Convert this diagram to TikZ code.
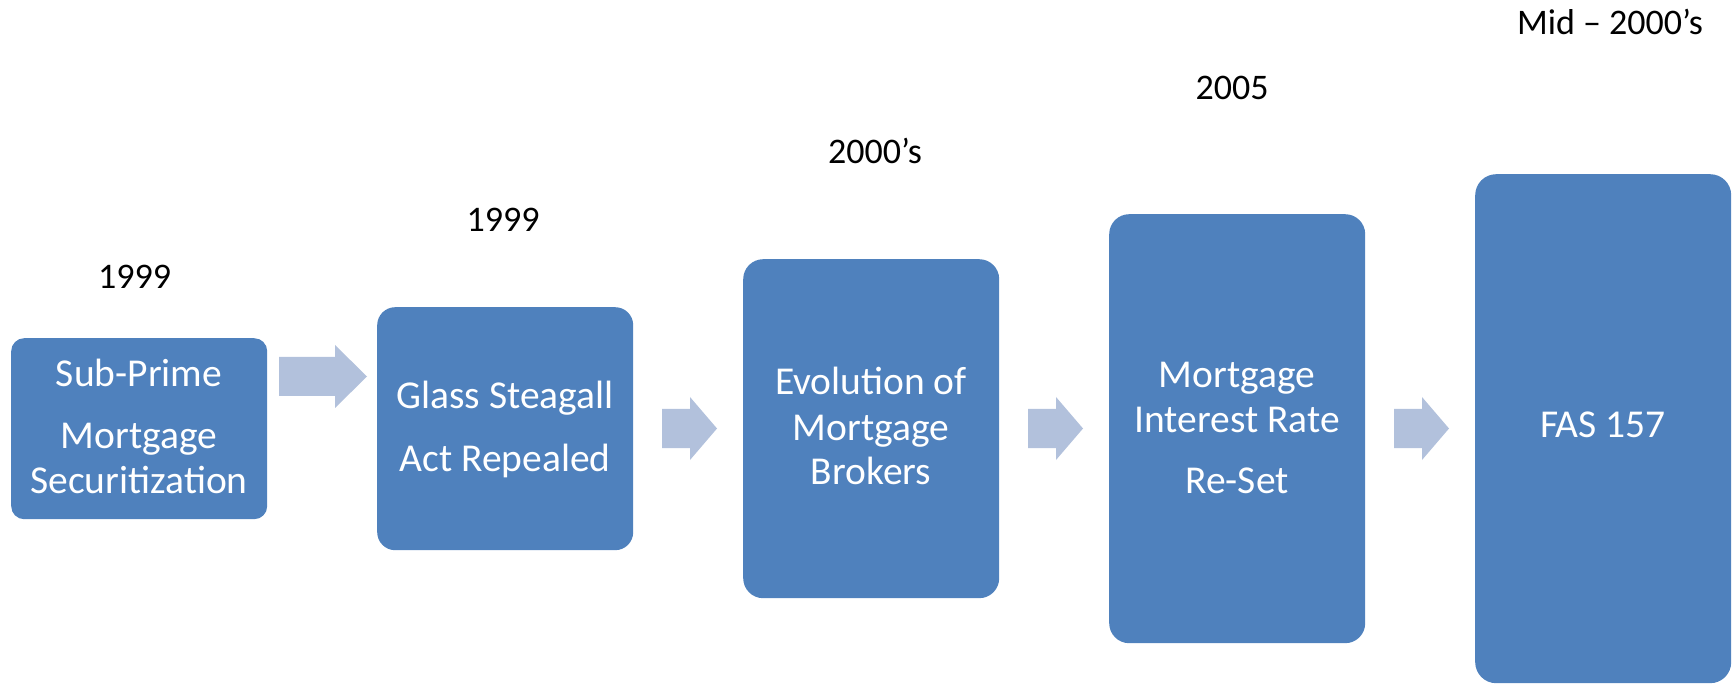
\documentclass[tikz,border=0pt]{standalone}
\usepackage{fontspec}
\setmainfont{Carlito}
\definecolor{boxblue}{RGB}{79,129,189}
\definecolor{arrowblue}{RGB}{178,193,220}
\tikzset{
  stepbox/.style={rectangle, fill=boxblue, draw=none, inner sep=0pt, anchor=north west},
  boxtext/.style={anchor=base, inner sep=0pt, text=white, font=\fontsize{39.5}{47}\selectfont},
  yeartext/.style={anchor=base, inner sep=0pt, text=black, font=\fontsize{36}{43}\selectfont},
  blockarrow/.style={fill=arrowblue, draw=none}
}
\newcommand{\myblockarrow}[4]{% shaft start, head start, tip x, mid y
  \fill[blockarrow] (#1,#4-19.5) -- (#2,#4-19.5) -- (#2,#4-31.5) -- (#3,#4) -- (#2,#4+31.5) -- (#2,#4+19.5) -- (#1,#4+19.5) -- cycle;}
\begin{document}
\begin{tikzpicture}[x=1pt,y=-1pt]
\useasboundingbox (0,0) rectangle (1735,684);
% boxes
\node[stepbox, rounded corners=13pt, minimum width=256pt, minimum height=181pt] (b1) at (11,338) {};
\node[stepbox, rounded corners=18pt, minimum width=256pt, minimum height=243pt] (b2) at (377,307) {};
\node[stepbox, rounded corners=20pt, minimum width=256pt, minimum height=339pt] (b3) at (743,259) {};
\node[stepbox, rounded corners=20pt, minimum width=256pt, minimum height=429pt] (b4) at (1109,214) {};
\node[stepbox, rounded corners=21pt, minimum width=256pt, minimum height=509pt] (b5) at (1475,174) {};
% arrows
\myblockarrow{279}{335}{367}{376.5}
\myblockarrow{662}{690}{717}{428.5}
\myblockarrow{1028}{1056}{1083}{428.5}
\myblockarrow{1394}{1422}{1449}{428.5}
% box texts
\node[boxtext] (t1a) at (139,387) {Sub-Prime};
\node[boxtext] (t1b) at (139,448) {Mortgage};
\node[boxtext] (t1c) at (139,493) {Securitization};
\node[boxtext] (t2a) at (505,409) {Glass Steagall};
\node[boxtext] (t2b) at (505,471) {Act Repealed};
\node[boxtext] (t3a) at (871,395) {Evolution of};
\node[boxtext] (t3b) at (871,440) {Mortgage};
\node[boxtext] (t3c) at (871,484) {Brokers};
\node[boxtext] (t4a) at (1237,388) {Mortgage};
\node[boxtext] (t4b) at (1237,432) {Interest Rate};
\node[boxtext] (t4c) at (1237,493) {Re-Set};
\node[boxtext] (t5a) at (1603,438) {FAS 157};
% year labels
\node[yeartext] (y1) at (134.5,289) {1999};
\node[yeartext] (y2) at (503,232) {1999};
\node[yeartext] (y3) at (875,164) {2000’s};
\node[yeartext] (y4) at (1232,100) {2005};
\node[yeartext] (y5) at (1610,35) {Mid – 2000’s};
\end{tikzpicture}
\end{document}
